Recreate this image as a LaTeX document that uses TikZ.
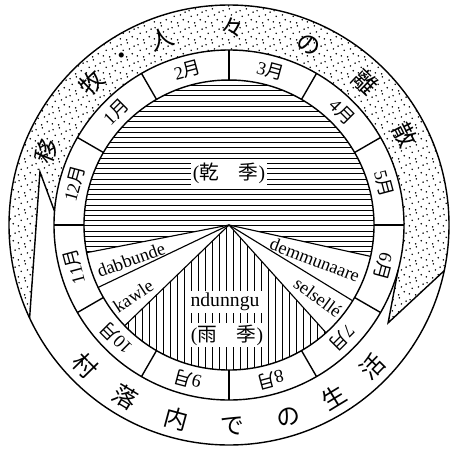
\documentclass[tikz,border=0pt]{standalone}
\usepackage{fontspec}
\setmainfont{Liberation Serif}
\newfontfamily\jp{Noto Sans CJK JP}
\usetikzlibrary{patterns.meta}

\tikzdeclarepattern{
  name=stipple,
  bottom left={(0pt,0pt)},
  top right={(12pt,12pt)},
  tile size={(12pt,12pt)},
  code={
    \fill (1pt,1.5pt) circle (.6pt);
    \fill (5.5pt,0.8pt) circle (.6pt);
    \fill (9.5pt,3pt) circle (.6pt);
    \fill (3pt,5.5pt) circle (.6pt);
    \fill (7.5pt,6.5pt) circle (.6pt);
    \fill (1.5pt,9.5pt) circle (.6pt);
    \fill (10.8pt,8.5pt) circle (.6pt);
    \fill (6pt,10.8pt) circle (.6pt);
  }
}

\begin{document}
\begin{tikzpicture}[
    line width=1pt,
    month/.style={font=\fontsize{13}{13}\selectfont, inner sep=0pt},
    rim/.style={font=\jp\fontsize{17}{17}\selectfont, inner sep=0pt},
    tribe/.style={font=\fontsize{13}{13}\selectfont, inner sep=0pt},
    season/.style={font=\fontsize{14}{14}\selectfont, fill=white, inner sep=1.5pt},
    hatch/.style={line width=0.6pt}
]
\useasboundingbox (-5.725,-5.575) rectangle (5.575,5.625);
\coordinate (apex) at (0,0);

% dotted band (arrow over the top)
\fill[pattern=stipple] (175.5:4.375) -- (164.3:4.91) -- (205:5.5)
    arc[start angle=205, end angle=-12, radius=5.5]
    -- (-31.6:4.67) -- (-15:4.375)
    arc[start angle=-15, end angle=175.5, radius=4.375] -- cycle;

% dry season
\begin{scope}
\clip (apex) -- (-12.5:3.625) arc[start angle=-12.5, end angle=191, radius=3.625] -- cycle;
\foreach \y in {-0.8,-0.67,...,3.7}
    \draw[hatch] (-3.7,\y) -- (3.7,\y);
\end{scope}

% rainy season
\begin{scope}
\clip (apex) -- (224:3.625) arc[start angle=224, end angle=312, radius=3.625] -- cycle;
\foreach \x in {-2.7,-2.525,...,2.7}
    \draw[hatch] (\x,-3.7) -- (\x,0);
\end{scope}

\draw (apex) circle (5.5);
\draw (apex) circle (4.375);
\draw (apex) circle (3.625);

% arrow ends
\draw (175.5:4.375) -- (164.3:4.91) -- (205:5.5);
\draw (-15:4.375) -- (-31.6:4.67) -- (-12:5.5);

% months
\foreach \a in {0,30,...,330}
    \draw (\a:3.625) -- (\a:4.375);
\foreach \m/\a in {1/135,2/105,3/75,4/45,5/15,6/345,7/315,8/285,9/255,10/225,11/195,12/165}
    \node[month, rotate=\a-90] (m\m) at (\a:4.0) {\m{\jp 月}};

% wedges
\foreach \a in {191,205.5,224,312,328.5,347.5}
    \draw[line width=0.8pt] (apex) -- (\a:3.625);

\node[season] (dry) at (0,1.3) {({\jp 乾　季})};
\node[season] (ndunngu) at (-0.1,-1.925) {ndunngu};
\node[season] (rainy) at (-0.05,-2.75) {({\jp 雨　季})};

\node[tribe, rotate=20] (dabbunde) at (199.6:2.6) {dabbunde};
\node[tribe, rotate=33] (kawle) at (216.5:2.98) {kawle};
\node[tribe, rotate=-21] (demmunaare) at (-22.1:2.32) {demmunaare};
\node[tribe, rotate=-36] (selselle) at (-39:2.86) {selsellé};

% outer band texts
\foreach \a/\c [count=\i] in {158.1/移,134/牧,122.2/・,109.8/人,89.1/々,66/の,46.4/離,27.1/散}
    \node[rim, rotate=\a-90] (top\i) at (\a:4.93) {\c};
\foreach \a/\c [count=\i] in {224.4/村,238.9/落,254.9/内,270.9/で,287.1/の,301.3/生,315.4/活}
    \node[rim, rotate=\a+90] (bot\i) at (\a:5.03) {\c};

\end{tikzpicture}
\end{document}
